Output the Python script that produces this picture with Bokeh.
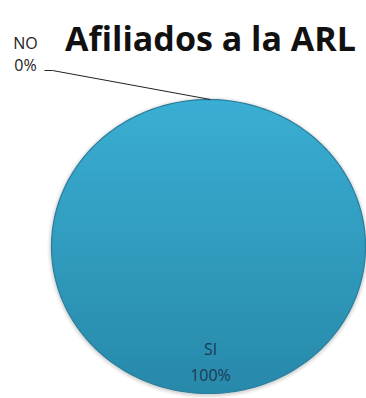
import numpy as np
from bokeh.plotting import figure
from bokeh.models import Range1d
from bokeh.core.properties import value
from bokeh.embed import file_html
from bokeh.resources import INLINE

# ---- data ----
categories = ["SI", "NO"]
values = [100, 0]
pct_labels = ["100%", "0%"]
title_text = "Afiliados a la ARL"

W, H = 366, 398
p = figure(width=W, height=H, output_backend="svg", toolbar_location=None,
           x_range=Range1d(0, W), y_range=Range1d(H, 0), min_border=0)
p.axis.visible = False
p.grid.visible = False
p.outline_line_color = None
p.background_fill_color = "white"
p.border_fill_color = "white"

# ellipse geometry (3D-looking pie)
cx, cy, a, b = 208, 246, 157, 147

def ell(theta):
    return cx + a * np.cos(theta), cy - b * np.sin(theta)

total = float(sum(values))
fracs = [v / total for v in values]
starts = np.pi / 2 - 2 * np.pi * np.concatenate([[0], np.cumsum(fracs)[:-1]])
ends = starts - 2 * np.pi * np.array(fracs)

def clip_y(poly, y0, y1):
    def clip(pts, inside, inter):
        out = []
        n = len(pts)
        for i in range(n):
            cur, prev = pts[i], pts[i - 1]
            if inside(cur):
                if not inside(prev):
                    out.append(inter(prev, cur))
                out.append(cur)
            elif inside(prev):
                out.append(inter(prev, cur))
        return out
    def ix(yc):
        def f(p1, p2):
            t = (yc - p1[1]) / (p2[1] - p1[1])
            return (p1[0] + t * (p2[0] - p1[0]), yc)
        return f
    pts = clip(poly, lambda q: q[1] >= y0, ix(y0))
    if not pts:
        return pts
    return clip(pts, lambda q: q[1] <= y1, ix(y1))

# soft shadow
th = np.linspace(0, 2 * np.pi, 200)
for k, al in [(4, 0.06), (2.5, 0.08), (1.2, 0.10)]:
    p.patch(cx + (a + k) * np.cos(th), cy + 1 - (b + k) * np.sin(th),
            fill_color="#555555", fill_alpha=al, line_color=None)

top_col = np.array([0x3a, 0xae, 0xd2])
bot_col = np.array([0x28, 0x8a, 0xab])
nb = 40
for s, e, f in zip(starts, ends, fracs):
    if f <= 0:
        continue
    t = np.linspace(s, e, 240)
    xs, ys = ell(t)
    if f < 0.9999:
        xs = np.concatenate([[cx], xs])
        ys = np.concatenate([[cy], ys])
    poly = list(zip(xs, ys))
    y_edges = np.linspace(cy - b, cy + b, nb + 1)
    for i in range(nb):
        seg = clip_y(poly, y_edges[i] - 0.6, y_edges[i + 1] + 0.6)
        if len(seg) < 3:
            continue
        u = i / (nb - 1)
        c = (top_col * (1 - u) + bot_col * u).astype(int)
        col = "#%02x%02x%02x" % tuple(c)
        p.patch([q[0] for q in seg], [q[1] for q in seg], fill_color=col,
                line_color=None)
    p.patch(xs, ys, fill_color=None, line_color="#2a7e9c", line_width=1.2)

# labels
for cat, f, s, e, lab in zip(categories, fracs, starts, ends, pct_labels):
    mid = (s + e) / 2
    if f > 0.5:
        p.text([cx + 2], [348], text=[cat], text_align="center", text_baseline="middle",
               text_font=value("Open Sans"), text_font_size="16px", text_color="#1d3a52")
        p.text([cx + 2], [374], text=[lab], text_align="center", text_baseline="middle",
               text_font=value("Open Sans"), text_font_size="16px", text_color="#1d3a52")
    else:
        px, py = ell(mid)
        p.line([44, 52, px + 2], [70, 70, py], line_color="#222222", line_width=1)
        p.text([25], [42], text=[cat], text_align="center", text_baseline="middle",
               text_font=value("Open Sans"), text_font_size="16px", text_color="#222222")
        p.text([25], [64], text=[lab], text_align="center", text_baseline="middle",
               text_font=value("Open Sans"), text_font_size="16px", text_color="#222222")

p.text([210], [37], text=[title_text], text_align="center", text_baseline="alphabetic",
       text_font=value("Open Sans"), text_font_style="bold", text_font_size="34px",
       text_color="#111111")

open("out.html", "w").write(file_html(p, INLINE))
